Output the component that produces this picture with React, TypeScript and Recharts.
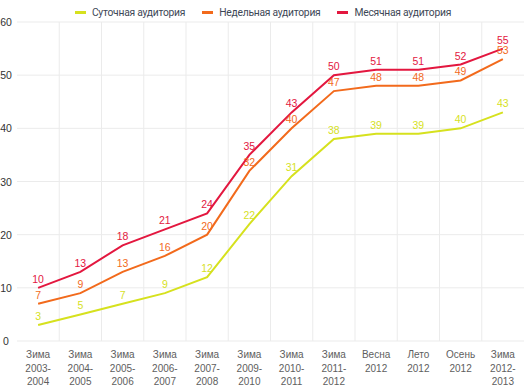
import { LineChart, Line, XAxis, YAxis, CartesianGrid, Legend, LabelList } from 'recharts';

const categories = [
  'Зима\n2003-\n2004',
  'Зима\n2004-\n2005',
  'Зима\n2005-\n2006',
  'Зима\n2006-\n2007',
  'Зима\n2007-\n2008',
  'Зима\n2009-\n2010',
  'Зима\n2010-\n2011',
  'Зима\n2011-\n2012',
  'Весна\n2012',
  'Лето\n2012',
  'Осень\n2012',
  'Зима\n2012-\n2013',
];
const daily = [3, 5, 7, 9, 12, 22, 31, 38, 39, 39, 40, 43];
const weekly = [7, 9, 13, 16, 20, 32, 40, 47, 48, 48, 49, 53];
const monthly = [10, 13, 18, 21, 24, 35, 43, 50, 51, 51, 52, 55];
const yTicks = [0, 10, 20, 30, 40, 50, 60];

const series = [
  { key: 'daily', name: 'Суточная аудитория', color: '#d6e11e' },
  { key: 'weekly', name: 'Недельная аудитория', color: '#f26a1c' },
  { key: 'monthly', name: 'Месячная аудитория', color: '#e3173f' },
];

const data = categories.map((label, i) => ({
  i,
  label,
  daily: daily[i],
  weekly: weekly[i],
  monthly: monthly[i],
}));

const labelFont = '"Liberation Sans", Arial, sans-serif';

function XTick({ x, y, payload }: any) {
  const lines = categories[payload.value].split('\n');
  return (
    <text x={x} y={y} textAnchor="middle" fill="#5e5e5e" fontSize={10} fontFamily={labelFont}>
      {lines.map((l, k) => (
        <tspan key={k} x={x} dy={k === 0 ? 9 : 13.5}>{l}</tspan>
      ))}
    </text>
  );
}

function YTick({ y, payload }: any) {
  return (
    <text x={6} y={y} dy={4} textAnchor="middle" fill="#333" fontSize={10.5} fontFamily={labelFont}>
      {payload.value}
    </text>
  );
}

function LegendContent() {
  return (
    <div style={{ display: 'flex', justifyContent: 'center', gap: 17, fontFamily: 'Roboto, sans-serif', fontSize: 10.3, letterSpacing: -0.25, color: '#3d4756', paddingRight: 4 }}>
      {series.map(s => (
        <div key={s.key} style={{ display: 'flex', alignItems: 'center' }}>
          <span style={{ display: 'inline-block', width: 11, height: 2.5, background: s.color, marginRight: 6 }} />
          {s.name}
        </div>
      ))}
    </div>
  );
}

// grid lines sit on the borders between categories, not on the ticks
function boundaryLines({ offset }: any) {
  const band = offset.width / categories.length;
  return categories.slice(1).map((_, k) => offset.left + band * (k + 1));
}

export default function App() {
  return (
    <div style={{ position: 'absolute', left: 0, top: 0, background: '#fff' }}>
      <LineChart width={530} height={392} data={data} margin={{ top: 9, right: 6, bottom: 0, left: 0 }}>
        <CartesianGrid stroke="#ebebeb" verticalCoordinatesGenerator={boundaryLines} />
        <XAxis
          type="number"
          dataKey="i"
          domain={[-0.5, categories.length - 0.5]}
          ticks={categories.map((_, i) => i)}
          interval={0}
          tick={<XTick />}
          tickLine={false}
          axisLine={false}
          height={51}
        />
        <YAxis domain={[0, 60]} ticks={yTicks} width={17} tick={<YTick />} tickLine={false} axisLine={false} />
        <Legend verticalAlign="top" content={<LegendContent />} wrapperStyle={{ position: 'absolute', top: 6, left: 0, width: 530 }} />
        {series.map(s => (
          <Line key={s.key} type="linear" dataKey={s.key} name={s.name} stroke={s.color} strokeWidth={2} dot={false} isAnimationActive={false}>
            <LabelList dataKey={s.key} position="top" offset={5} fill={s.color} fontSize={10.5} fontFamily={labelFont} />
          </Line>
        ))}
      </LineChart>
    </div>
  );
}
